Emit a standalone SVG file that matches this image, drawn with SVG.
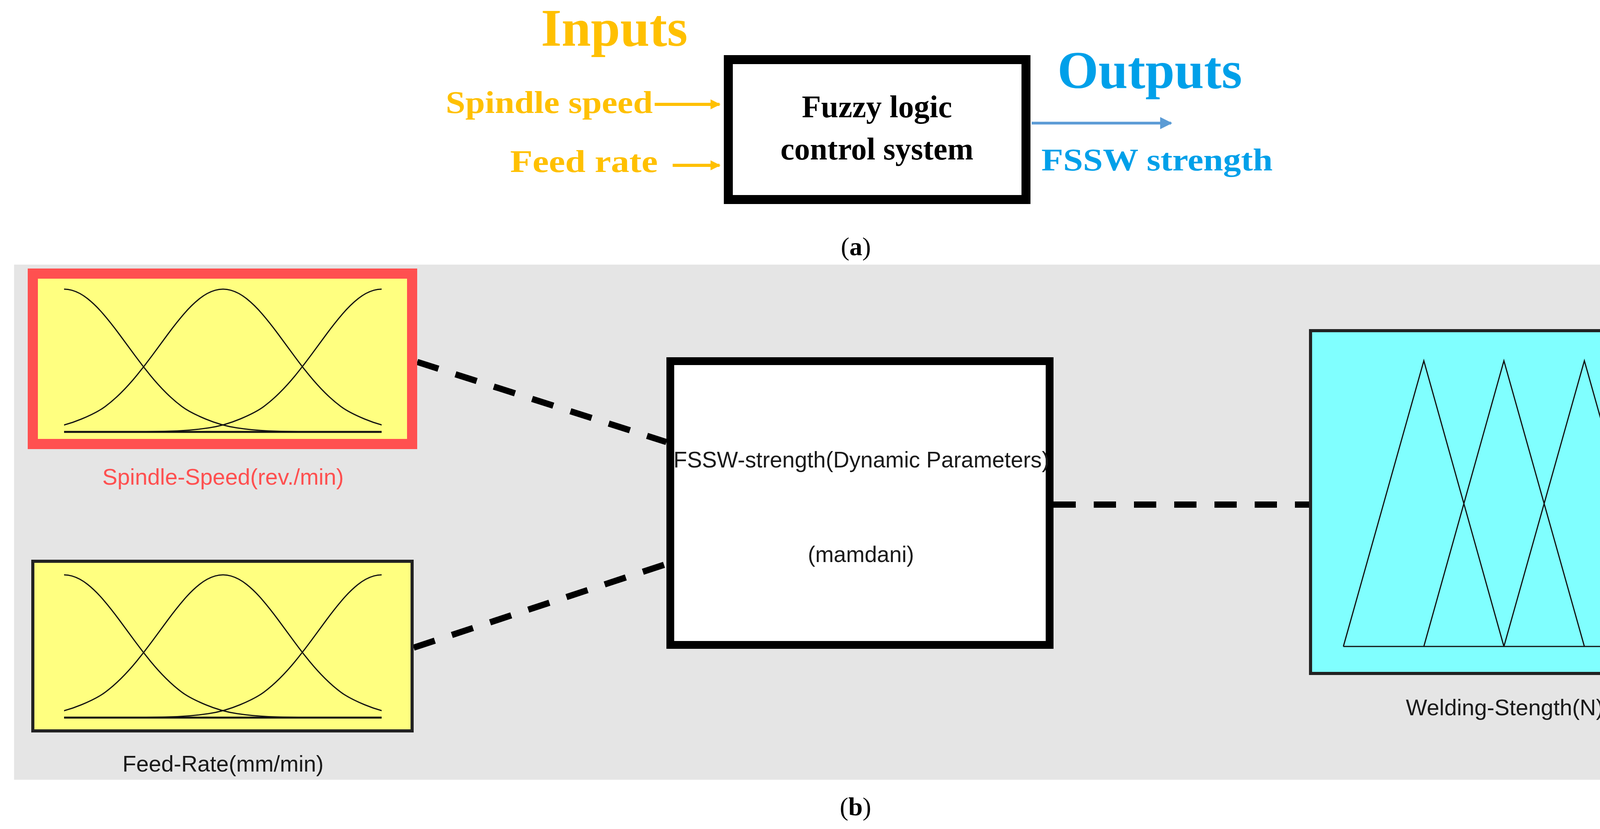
<svg xmlns="http://www.w3.org/2000/svg" width="4368" height="2121" viewBox="0 0 4368 2121">
<style>
.tb{font-family:"Liberation Serif","Times New Roman",serif;font-weight:bold}
.ss{font-family:"Liberation Sans",Arial,sans-serif;font-size:58px;fill:#1a1a1a}
.y{fill:#FFC000}
.dash{stroke:#000;stroke-width:16;stroke-dasharray:57 46;fill:none}
.mf{fill:none;stroke:#111;stroke-width:3}
</style>
<defs>
<marker id="ay" viewBox="0 0 10 10" refX="9" refY="5" markerWidth="3.2" markerHeight="3.2" orient="auto" markerUnits="strokeWidth"><path d="M0,0 L10,5 L0,10 Z" fill="#FFC000"/></marker>
<marker id="ab" viewBox="0 0 10 10" refX="9" refY="5" markerWidth="4.5" markerHeight="4.5" orient="auto" markerUnits="strokeWidth"><path d="M0,0 L10,5 L0,10 Z" fill="#5B9BD5"/></marker>
<path id="g" class="mf" d="M-813,0 L-728.5,-0.05 Q-644,-0.1 -603.75,-0.45 Q-563.5,-0.8 -523.25,-2.45 Q-483,-4.1 -442.75,-10.15 Q-402.5,-16.2 -362.25,-33 Q-322,-49.8 -301.875,-64.75 Q-281.75,-79.7 -261.625,-99.6 Q-241.5,-119.5 -221.375,-144 Q-201.25,-168.5 -181.125,-195.85 Q-161,-223.2 -140.875,-250.5 Q-120.75,-277.8 -100.625,-301.3 Q-80.5,-324.8 -60.375,-340.75 Q-40.25,-356.7 -20.125,-362.35 Q0,-368 20.125,-362.35 Q40.25,-356.7 60.375,-340.75 Q80.5,-324.8 100.625,-301.3 Q120.75,-277.8 140.875,-250.5 Q161,-223.2 181.125,-195.85 Q201.25,-168.5 221.375,-144 Q241.5,-119.5 261.625,-99.6 Q281.75,-79.7 301.875,-64.75 Q322,-49.8 362.25,-33 Q402.5,-16.2 442.75,-10.15 Q483,-4.1 523.25,-2.45 Q563.5,-0.8 603.75,-0.45 Q644,-0.1 728.5,-0.05 L813,0"/>
<clipPath id="cx" clipPathUnits="userSpaceOnUse"><rect x="164" y="0" width="813" height="2121"/></clipPath>
</defs>
<rect width="4368" height="2121" fill="#fff"/>

<g id="panel-a">
<text class="tb y" x="1385" y="117" font-size="135">Inputs</text>
<text class="tb" x="2707" y="225" font-size="135" fill="#00A0E9">Outputs</text>
<g id="fuzzy-box">
<rect x="1864.5" y="152.5" width="762" height="358" fill="#fff" stroke="#000" stroke-width="23"/>
<text class="tb" x="2245" y="300" font-size="80" text-anchor="middle">Fuzzy logic</text>
<text class="tb" x="2245" y="408" font-size="80" text-anchor="middle">control system</text>
</g>
<text class="tb y" x="1141" y="289" font-size="80" textLength="530" lengthAdjust="spacingAndGlyphs">Spindle speed</text>
<text class="tb y" x="1306" y="440" font-size="80" textLength="378" lengthAdjust="spacingAndGlyphs">Feed rate</text>
<text class="tb" x="2666" y="436" font-size="80" fill="#00A0E9" textLength="592" lengthAdjust="spacingAndGlyphs">FSSW strength</text>
<g id="arrows-a">
<line x1="1676" y1="267" x2="1842" y2="267" stroke="#FFC000" stroke-width="8" marker-end="url(#ay)"/>
<line x1="1722" y1="423" x2="1842" y2="423" stroke="#FFC000" stroke-width="8" marker-end="url(#ay)"/>
<line x1="2641" y1="315" x2="2998" y2="315" stroke="#5B9BD5" stroke-width="7" marker-end="url(#ab)"/>
</g>
<text x="2191" y="653" font-size="66" text-anchor="middle" font-family="Liberation Serif,serif">(<tspan font-weight="bold">a</tspan>)</text>
</g>

<g id="panel-b">
<rect x="36" y="677" width="4316" height="1318" fill="#E5E5E5"/>
<g id="connectors">
<line class="dash" x1="1068" y1="926" x2="1706" y2="1131"/>
<line class="dash" x1="1059" y1="1657" x2="1706" y2="1443"/>
<line class="dash" x1="2697" y1="1291" x2="3351" y2="1291"/>
</g>
<g id="spindle-speed">
<rect x="84" y="700" width="971" height="436" fill="#FFFF80" stroke="#FF5050" stroke-width="26"/>
<g clip-path="url(#cx)">
<use href="#g" transform="translate(164,1105)"/>
<use href="#g" transform="translate(571,1105)"/>
<use href="#g" transform="translate(977,1105)"/>
</g>
<line x1="164" y1="1105" x2="977" y2="1105" stroke="#111" stroke-width="5"/>
<text class="ss" x="571" y="1240" text-anchor="middle" style="fill:#FF5050" textLength="618" lengthAdjust="spacingAndGlyphs">Spindle-Speed(rev./min)</text>
</g>
<g id="feed-rate">
<rect x="84" y="1436" width="971" height="434" fill="#FFFF80" stroke="#222" stroke-width="8"/>
<g clip-path="url(#cx)">
<use href="#g" transform="translate(164,1836)"/>
<use href="#g" transform="translate(571,1836)"/>
<use href="#g" transform="translate(977,1836)"/>
</g>
<line x1="164" y1="1836" x2="977" y2="1836" stroke="#111" stroke-width="5"/>
<text class="ss" x="571" y="1974" text-anchor="middle" textLength="515" lengthAdjust="spacingAndGlyphs">Feed-Rate(mm/min)</text>
</g>
<g id="fis">
<rect x="1716" y="924" width="971" height="726" fill="#fff" stroke="#000" stroke-width="20"/>
<text class="ss" x="2205" y="1196" text-anchor="middle" textLength="962" lengthAdjust="spacingAndGlyphs">FSSW-strength(Dynamic Parameters)</text>
<text class="ss" x="2204" y="1438" text-anchor="middle" textLength="272" lengthAdjust="spacingAndGlyphs">(mamdani)</text>
</g>
<g id="welding-strength">
<rect x="3355" y="846" width="986" height="877" fill="#80FFFF" stroke="#222" stroke-width="8"/>
<path class="mf" d="M3439,1654 L3645,923 L3850,1654 M3645,1654 L3850,923 L4056,1654 M3850,1654 L4056,923 L4262,1654 M3439,1654 L4262,1654"/>
<text class="ss" x="3852" y="1830" text-anchor="middle" textLength="506" lengthAdjust="spacingAndGlyphs">Welding-Stength(N)</text>
</g>
<text x="2190" y="2086" font-size="66" text-anchor="middle" font-family="Liberation Serif,serif">(<tspan font-weight="bold">b</tspan>)</text>
</g>
</svg>
